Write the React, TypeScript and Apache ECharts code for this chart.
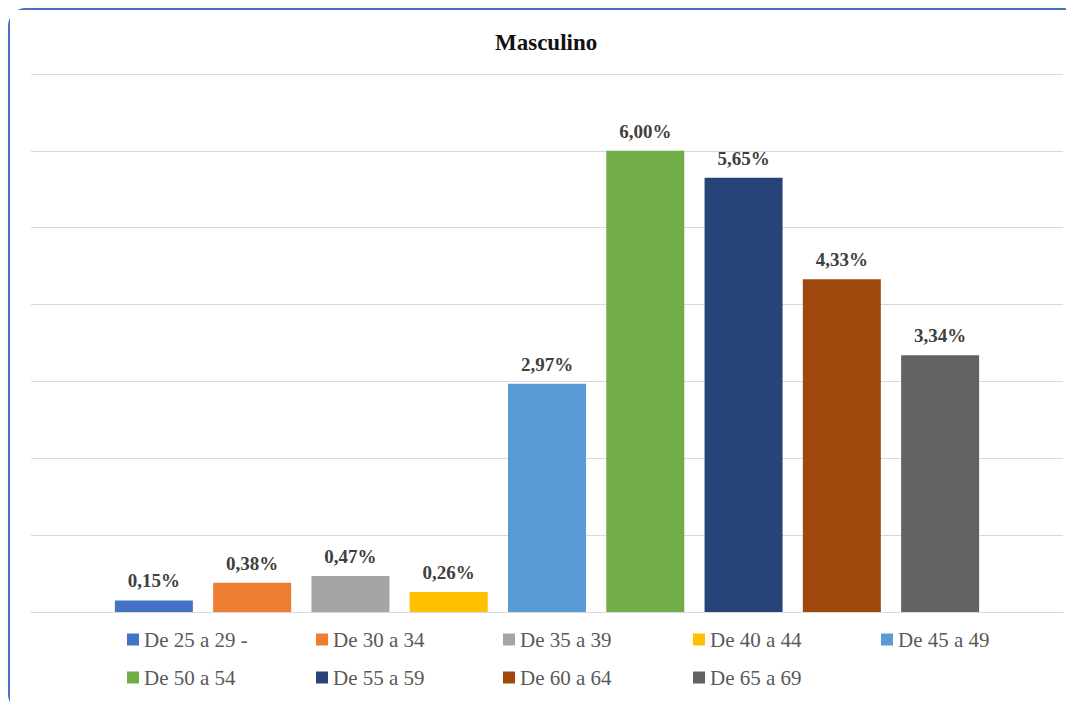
import React, { useEffect, useRef } from "react";
import * as echarts from "echarts";

const title = "Masculino";
const seriesNames = [
  "De 25 a 29 -",
  "De 30 a 34",
  "De 35 a 39",
  "De 40 a 44",
  "De 45 a 49",
  "De 50 a 54",
  "De 55 a 59",
  "De 60 a 64",
  "De 65 a 69",
];
const values = [0.15, 0.38, 0.47, 0.26, 2.97, 6.0, 5.65, 4.33, 3.34];
const colors = [
  "#4472C4",
  "#ED7D31",
  "#A5A5A5",
  "#FFC000",
  "#5B9BD5",
  "#70AD47",
  "#264478",
  "#9E480E",
  "#636363",
];
const categories = [""];

const legendLefts = [117, 306, 493, 683, 871];
const legendTops = [619, 657];

export default function App() {
  const ref = useRef<HTMLDivElement>(null);
  useEffect(() => {
    if (!ref.current) return;
    const chart = echarts.init(ref.current, undefined, { renderer: "svg" });
    const serif = "Liberation Serif";
    const legends = seriesNames.map((name, i) => ({
      data: [name],
      left: legendLefts[i % 5],
      top: legendTops[Math.floor(i / 5)],
      icon: "rect",
      itemWidth: 12,
      itemHeight: 12,
      padding: 0,
      textStyle: { fontFamily: serif, fontSize: 21, color: "#595959" },
    }));
    chart.setOption({
      animation: false,
      backgroundColor: "#ffffff",
      textStyle: { fontFamily: serif },
      title: {
        text: title,
        left: 485,
        top: 21,
        padding: 0,
        textStyle: { fontFamily: serif, fontSize: 23, fontWeight: "bold", color: "#111111" },
      },
      legend: legends,
      grid: { left: 21, right: 17, top: 64, bottom: 98 },
      xAxis: {
        type: "category",
        data: categories,
        axisLine: { show: true, lineStyle: { color: "#D9D9D9", width: 1 } },
        axisTick: { show: false },
        axisLabel: { show: false },
      },
      yAxis: {
        type: "value",
        min: 0,
        max: 7,
        interval: 1,
        axisLine: { show: false },
        axisTick: { show: false },
        axisLabel: { show: false },
        splitLine: { lineStyle: { color: "#D9D9D9", width: 1 } },
      },
      series: seriesNames.map((name, i) => ({
        name,
        type: "bar",
        data: [values[i]],
        barWidth: 78,
        barGap: "26%",
        itemStyle: { color: colors[i] },
        label: {
          show: true,
          position: "top",
          distance: 10,
          fontFamily: serif,
          fontSize: 19,
          fontWeight: "bold",
          color: "#404040",
          formatter: (p: any) => p.value.toFixed(2).replace(".", ",") + "%",
        },
      })),
    });
    return () => chart.dispose();
  }, []);
  return (
    <div
      style={{
        width: 1074,
        height: 704,
        boxSizing: "border-box",
        border: "2px solid #4472C4",
        borderRadius: 18,
        background: "#fff",
      }}
    >
      <div ref={ref} style={{ width: 1070, height: 700 }} />
    </div>
  );
}
